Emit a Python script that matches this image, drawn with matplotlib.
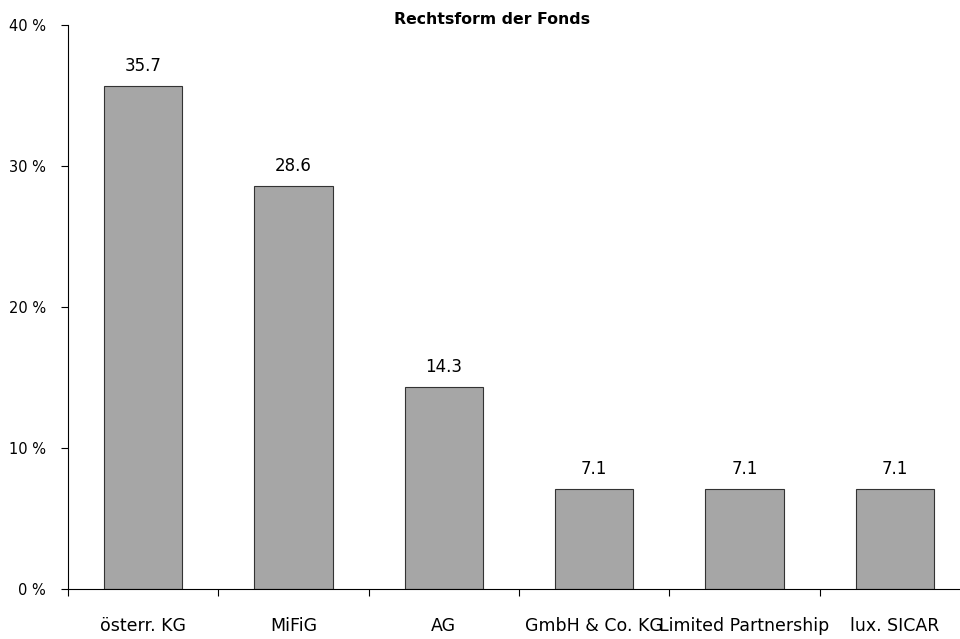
import matplotlib.pyplot as plt
from matplotlib.ticker import FuncFormatter

# Anteile der Rechtsformen in Prozent
categories = ["österr. KG", "MiFiG", "AG", "GmbH & Co. KG", "Limited Partnership", "lux. SICAR"]
shares = [35.7, 28.6, 14.3, 7.1, 7.1, 7.1]
y_ticks = [0, 10, 20, 30, 40]

plt.rcParams["font.family"] = ["DejaVu Sans"]

fig = plt.figure(figsize=(9.6, 6.39), dpi=100)
ax = fig.add_axes([68 / 960, 1 - 589 / 639, 902 / 960, 564 / 639])

x = list(range(len(categories)))
bars = ax.bar(x, shares, width=0.52, color="#a6a6a6", edgecolor="#333333", linewidth=0.8)

for rect, val in zip(bars, shares):
    ax.annotate(f"{val:.1f}", (rect.get_x() + rect.get_width() / 2, val),
                xytext=(0, 8), textcoords="offset points",
                ha="center", va="bottom", fontsize=12)

ax.set_xlim(-0.5, len(categories) - 0.5)
ax.set_ylim(0, 40)
ax.set_yticks(y_ticks)
ax.yaxis.set_major_formatter(FuncFormatter(lambda v, p: f"{v:.0f} %"))

# Kategorie-Grenzen als Striche, Beschriftung in der Mitte
ax.set_xticks([i + 0.5 for i in x[:-1]] + [-0.5])
ax.set_xticklabels([])
ax.set_xticks(x, minor=True)
ax.set_xticklabels(categories, minor=True, fontsize=12.5)
ax.tick_params(axis="x", which="minor", length=0, pad=20)
ax.tick_params(axis="x", which="major", length=5, direction="out", width=0.8)
ax.tick_params(axis="y", length=5, direction="out", width=0.8, labelsize=10.5, pad=11)

for side in ["top", "right"]:
    ax.spines[side].set_visible(False)
for side in ["left", "bottom"]:
    ax.spines[side].set_linewidth(0.8)
ax.spines["bottom"].set_clip_on(False)

fig.text(492 / 960, 1 - 20 / 639, "Rechtsform der Fonds", ha="center", va="center",
         fontsize=11.3, fontweight="bold")

fig.savefig("out.png", dpi=100)
